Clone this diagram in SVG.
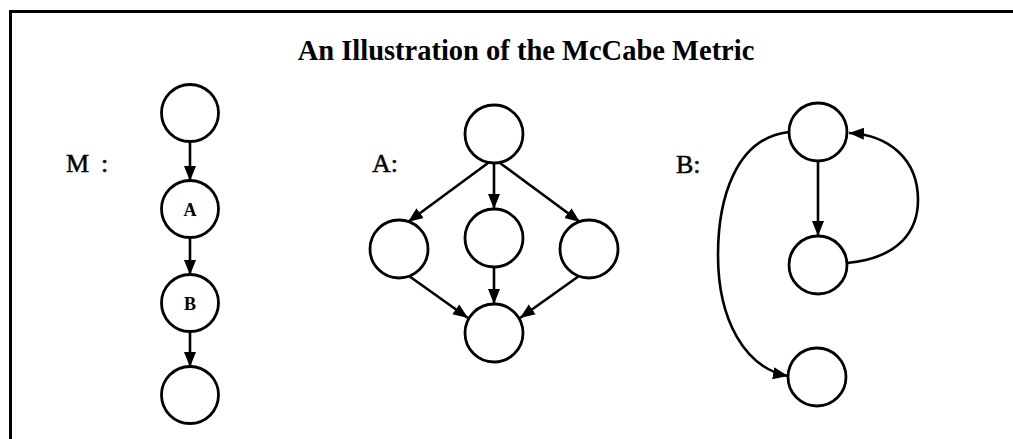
<svg xmlns="http://www.w3.org/2000/svg" width="1013" height="439" viewBox="0 0 1013 439">
<style>
.n{fill:#fff;stroke:#000;stroke-width:2.8}
.e{fill:none;stroke:#000;stroke-width:2.6}
.t{font-family:"Liberation Serif","Times New Roman",serif;fill:#000}
.lbl{font-size:26px;stroke:#000;stroke-width:0.5}
.in{font-size:18px;font-weight:bold;text-anchor:middle}
</style>
<defs>
<marker id="ah" markerUnits="userSpaceOnUse" markerWidth="16" markerHeight="14" refX="15" refY="7" orient="auto">
<path d="M0,1 L15,7 L0,13 Z" fill="#000"/>
</marker>
</defs>
<rect width="1013" height="439" fill="#fff"/>
<g id="frame">
<path d="M10.5,439 L10.5,11.5 L1013,11.5" fill="none" stroke="#000" stroke-width="3"/>
</g>
<text id="title" class="t" x="526" y="60" font-size="28.5" font-weight="bold" text-anchor="middle">An Illustration of the McCabe Metric</text>
<text id="labelM" class="t lbl" x="66" y="172">M<tspan x="101">:</tspan></text>
<text id="labelA" class="t lbl" x="372" y="172">A:</text>
<text id="labelB" class="t lbl" x="676" y="173">B:</text>
<g id="connectors">
<line class="e" x1="190" y1="141" x2="190" y2="181" marker-end="url(#ah)"/>
<line class="e" x1="190" y1="237" x2="190" y2="275" marker-end="url(#ah)"/>
<line class="e" x1="190" y1="331" x2="190" y2="367" marker-end="url(#ah)"/>
<line class="e" x1="488" y1="163" x2="408" y2="222" marker-end="url(#ah)"/>
<line class="e" x1="494" y1="163" x2="494" y2="209" marker-end="url(#ah)"/>
<line class="e" x1="500" y1="163" x2="580" y2="222" marker-end="url(#ah)"/>
<line class="e" x1="409" y1="276" x2="468" y2="318" marker-end="url(#ah)"/>
<line class="e" x1="494" y1="267" x2="494" y2="304" marker-end="url(#ah)"/>
<line class="e" x1="579" y1="276" x2="520" y2="318" marker-end="url(#ah)"/>
<line class="e" x1="818" y1="161" x2="818" y2="236" marker-end="url(#ah)"/>
<path class="e" d="M789,132 C735,138 718,200 718,255 C718,320 745,368 788,376" marker-end="url(#ah)"/>
<path class="e" d="M847,263 C900,258 918,230 918,200 C918,160 890,135 849,133" marker-end="url(#ah)"/>
</g>
<g id="m1"><circle class="n" cx="190" cy="113" r="28.5"/></g>
<g id="mA"><circle class="n" cx="190" cy="209" r="28.5"/><text class="t in" x="190" y="215.5">A</text></g>
<g id="mB"><circle class="n" cx="190" cy="303" r="28.5"/><text class="t in" x="190" y="309.5">B</text></g>
<g id="m4"><circle class="n" cx="190" cy="395" r="28.5"/></g>
<g id="a1"><circle class="n" cx="494" cy="134" r="29"/></g>
<g id="a2"><circle class="n" cx="399" cy="249" r="29"/></g>
<g id="a3"><circle class="n" cx="494" cy="238" r="29"/></g>
<g id="a4"><circle class="n" cx="589" cy="249" r="29"/></g>
<g id="a5"><circle class="n" cx="494" cy="333" r="29"/></g>
<g id="b1"><circle class="n" cx="818" cy="132" r="29"/></g>
<g id="b2"><circle class="n" cx="818" cy="265" r="29"/></g>
<g id="b3"><circle class="n" cx="817" cy="377" r="29"/></g>
</svg>
